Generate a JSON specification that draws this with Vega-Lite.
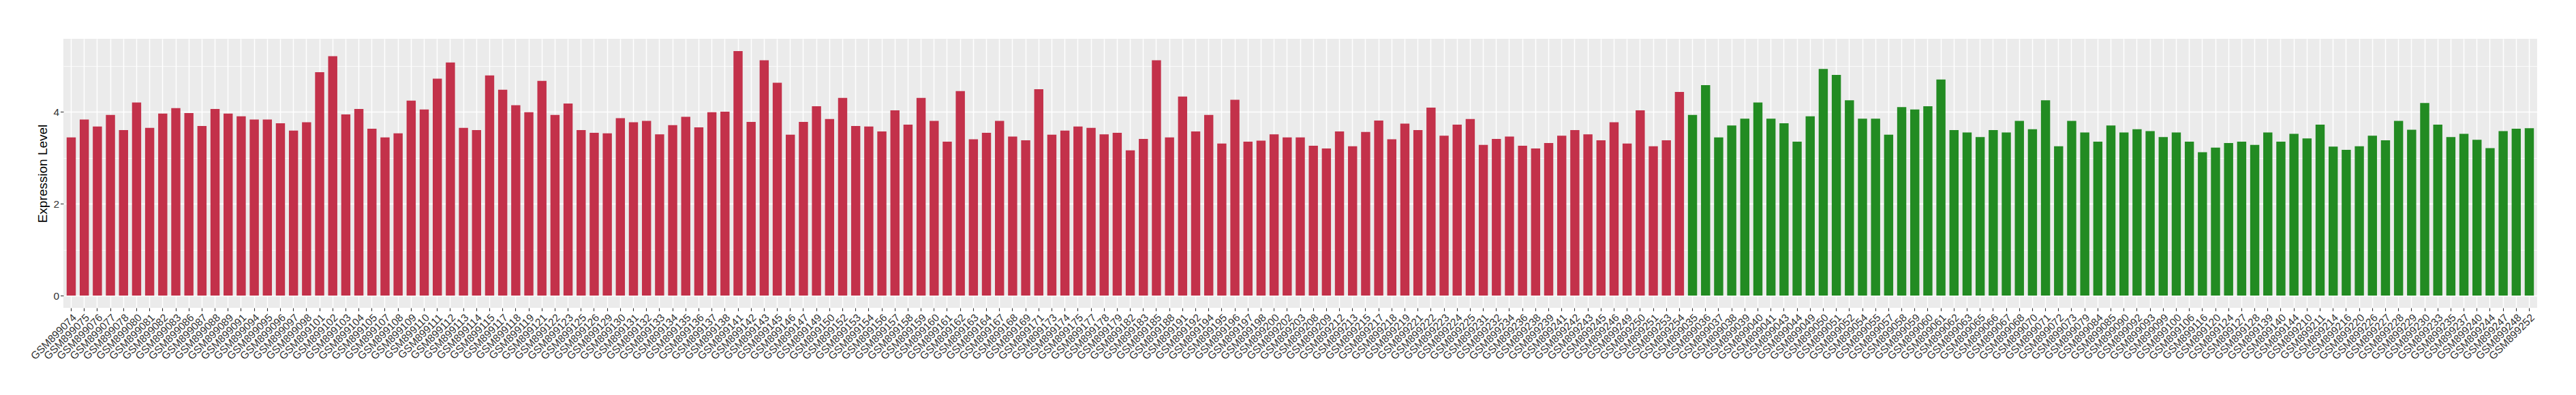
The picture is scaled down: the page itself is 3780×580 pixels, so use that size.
{
  "$schema": "https://vega.github.io/schema/vega-lite/v6.json",
  "width": 3630,
  "height": 395,
  "autosize": {"type": "none"},
  "padding": {"left": 93, "top": 57, "right": 57, "bottom": 128},
  "background": "white",
  "config": {"view": {"fill": "#EBEBEB", "stroke": null}, "font": "Liberation Sans"},
  "data": {"values": [
    {"sample": "GSM899074", "expression": 3.44, "group": "G1"},
    {"sample": "GSM899075", "expression": 3.83, "group": "G1"},
    {"sample": "GSM899076", "expression": 3.68, "group": "G1"},
    {"sample": "GSM899077", "expression": 3.93, "group": "G1"},
    {"sample": "GSM899078", "expression": 3.60, "group": "G1"},
    {"sample": "GSM899080", "expression": 4.20, "group": "G1"},
    {"sample": "GSM899081", "expression": 3.65, "group": "G1"},
    {"sample": "GSM899082", "expression": 3.96, "group": "G1"},
    {"sample": "GSM899083", "expression": 4.08, "group": "G1"},
    {"sample": "GSM899086", "expression": 3.97, "group": "G1"},
    {"sample": "GSM899087", "expression": 3.69, "group": "G1"},
    {"sample": "GSM899088", "expression": 4.06, "group": "G1"},
    {"sample": "GSM899089", "expression": 3.96, "group": "G1"},
    {"sample": "GSM899091", "expression": 3.90, "group": "G1"},
    {"sample": "GSM899094", "expression": 3.83, "group": "G1"},
    {"sample": "GSM899095", "expression": 3.83, "group": "G1"},
    {"sample": "GSM899096", "expression": 3.75, "group": "G1"},
    {"sample": "GSM899097", "expression": 3.59, "group": "G1"},
    {"sample": "GSM899098", "expression": 3.77, "group": "G1"},
    {"sample": "GSM899101", "expression": 4.86, "group": "G1"},
    {"sample": "GSM899102", "expression": 5.21, "group": "G1"},
    {"sample": "GSM899103", "expression": 3.94, "group": "G1"},
    {"sample": "GSM899104", "expression": 4.06, "group": "G1"},
    {"sample": "GSM899105", "expression": 3.63, "group": "G1"},
    {"sample": "GSM899107", "expression": 3.44, "group": "G1"},
    {"sample": "GSM899108", "expression": 3.53, "group": "G1"},
    {"sample": "GSM899109", "expression": 4.24, "group": "G1"},
    {"sample": "GSM899110", "expression": 4.05, "group": "G1"},
    {"sample": "GSM899111", "expression": 4.72, "group": "G1"},
    {"sample": "GSM899112", "expression": 5.07, "group": "G1"},
    {"sample": "GSM899113", "expression": 3.65, "group": "G1"},
    {"sample": "GSM899114", "expression": 3.60, "group": "G1"},
    {"sample": "GSM899115", "expression": 4.79, "group": "G1"},
    {"sample": "GSM899117", "expression": 4.48, "group": "G1"},
    {"sample": "GSM899118", "expression": 4.14, "group": "G1"},
    {"sample": "GSM899119", "expression": 3.99, "group": "G1"},
    {"sample": "GSM899121", "expression": 4.67, "group": "G1"},
    {"sample": "GSM899122", "expression": 3.93, "group": "G1"},
    {"sample": "GSM899123", "expression": 4.18, "group": "G1"},
    {"sample": "GSM899125", "expression": 3.60, "group": "G1"},
    {"sample": "GSM899126", "expression": 3.54, "group": "G1"},
    {"sample": "GSM899129", "expression": 3.53, "group": "G1"},
    {"sample": "GSM899130", "expression": 3.86, "group": "G1"},
    {"sample": "GSM899131", "expression": 3.77, "group": "G1"},
    {"sample": "GSM899132", "expression": 3.80, "group": "G1"},
    {"sample": "GSM899133", "expression": 3.51, "group": "G1"},
    {"sample": "GSM899134", "expression": 3.71, "group": "G1"},
    {"sample": "GSM899135", "expression": 3.89, "group": "G1"},
    {"sample": "GSM899136", "expression": 3.66, "group": "G1"},
    {"sample": "GSM899137", "expression": 3.99, "group": "G1"},
    {"sample": "GSM899138", "expression": 4.00, "group": "G1"},
    {"sample": "GSM899141", "expression": 5.32, "group": "G1"},
    {"sample": "GSM899142", "expression": 3.78, "group": "G1"},
    {"sample": "GSM899143", "expression": 5.12, "group": "G1"},
    {"sample": "GSM899145", "expression": 4.63, "group": "G1"},
    {"sample": "GSM899146", "expression": 3.50, "group": "G1"},
    {"sample": "GSM899147", "expression": 3.78, "group": "G1"},
    {"sample": "GSM899149", "expression": 4.12, "group": "G1"},
    {"sample": "GSM899150", "expression": 3.84, "group": "G1"},
    {"sample": "GSM899152", "expression": 4.30, "group": "G1"},
    {"sample": "GSM899153", "expression": 3.69, "group": "G1"},
    {"sample": "GSM899154", "expression": 3.68, "group": "G1"},
    {"sample": "GSM899156", "expression": 3.57, "group": "G1"},
    {"sample": "GSM899157", "expression": 4.03, "group": "G1"},
    {"sample": "GSM899158", "expression": 3.72, "group": "G1"},
    {"sample": "GSM899159", "expression": 4.30, "group": "G1"},
    {"sample": "GSM899160", "expression": 3.80, "group": "G1"},
    {"sample": "GSM899161", "expression": 3.35, "group": "G1"},
    {"sample": "GSM899162", "expression": 4.45, "group": "G1"},
    {"sample": "GSM899163", "expression": 3.40, "group": "G1"},
    {"sample": "GSM899164", "expression": 3.54, "group": "G1"},
    {"sample": "GSM899167", "expression": 3.80, "group": "G1"},
    {"sample": "GSM899168", "expression": 3.46, "group": "G1"},
    {"sample": "GSM899169", "expression": 3.38, "group": "G1"},
    {"sample": "GSM899171", "expression": 4.49, "group": "G1"},
    {"sample": "GSM899173", "expression": 3.50, "group": "G1"},
    {"sample": "GSM899174", "expression": 3.59, "group": "G1"},
    {"sample": "GSM899175", "expression": 3.68, "group": "G1"},
    {"sample": "GSM899177", "expression": 3.65, "group": "G1"},
    {"sample": "GSM899178", "expression": 3.51, "group": "G1"},
    {"sample": "GSM899179", "expression": 3.54, "group": "G1"},
    {"sample": "GSM899182", "expression": 3.16, "group": "G1"},
    {"sample": "GSM899183", "expression": 3.41, "group": "G1"},
    {"sample": "GSM899185", "expression": 5.12, "group": "G1"},
    {"sample": "GSM899188", "expression": 3.44, "group": "G1"},
    {"sample": "GSM899191", "expression": 4.33, "group": "G1"},
    {"sample": "GSM899192", "expression": 3.57, "group": "G1"},
    {"sample": "GSM899194", "expression": 3.93, "group": "G1"},
    {"sample": "GSM899195", "expression": 3.31, "group": "G1"},
    {"sample": "GSM899196", "expression": 4.26, "group": "G1"},
    {"sample": "GSM899197", "expression": 3.35, "group": "G1"},
    {"sample": "GSM899198", "expression": 3.37, "group": "G1"},
    {"sample": "GSM899200", "expression": 3.51, "group": "G1"},
    {"sample": "GSM899202", "expression": 3.44, "group": "G1"},
    {"sample": "GSM899203", "expression": 3.44, "group": "G1"},
    {"sample": "GSM899208", "expression": 3.26, "group": "G1"},
    {"sample": "GSM899209", "expression": 3.20, "group": "G1"},
    {"sample": "GSM899212", "expression": 3.57, "group": "G1"},
    {"sample": "GSM899213", "expression": 3.25, "group": "G1"},
    {"sample": "GSM899215", "expression": 3.56, "group": "G1"},
    {"sample": "GSM899217", "expression": 3.81, "group": "G1"},
    {"sample": "GSM899218", "expression": 3.40, "group": "G1"},
    {"sample": "GSM899219", "expression": 3.74, "group": "G1"},
    {"sample": "GSM899221", "expression": 3.60, "group": "G1"},
    {"sample": "GSM899222", "expression": 4.09, "group": "G1"},
    {"sample": "GSM899223", "expression": 3.48, "group": "G1"},
    {"sample": "GSM899224", "expression": 3.72, "group": "G1"},
    {"sample": "GSM899225", "expression": 3.84, "group": "G1"},
    {"sample": "GSM899231", "expression": 3.28, "group": "G1"},
    {"sample": "GSM899232", "expression": 3.41, "group": "G1"},
    {"sample": "GSM899234", "expression": 3.46, "group": "G1"},
    {"sample": "GSM899236", "expression": 3.26, "group": "G1"},
    {"sample": "GSM899238", "expression": 3.20, "group": "G1"},
    {"sample": "GSM899239", "expression": 3.32, "group": "G1"},
    {"sample": "GSM899241", "expression": 3.48, "group": "G1"},
    {"sample": "GSM899242", "expression": 3.60, "group": "G1"},
    {"sample": "GSM899243", "expression": 3.51, "group": "G1"},
    {"sample": "GSM899245", "expression": 3.38, "group": "G1"},
    {"sample": "GSM899246", "expression": 3.77, "group": "G1"},
    {"sample": "GSM899249", "expression": 3.31, "group": "G1"},
    {"sample": "GSM899250", "expression": 4.03, "group": "G1"},
    {"sample": "GSM899251", "expression": 3.25, "group": "G1"},
    {"sample": "GSM899253", "expression": 3.38, "group": "G1"},
    {"sample": "GSM899254", "expression": 4.43, "group": "G1"},
    {"sample": "GSM899035", "expression": 3.93, "group": "G2"},
    {"sample": "GSM899036", "expression": 4.58, "group": "G2"},
    {"sample": "GSM899037", "expression": 3.44, "group": "G2"},
    {"sample": "GSM899038", "expression": 3.70, "group": "G2"},
    {"sample": "GSM899039", "expression": 3.85, "group": "G2"},
    {"sample": "GSM899040", "expression": 4.20, "group": "G2"},
    {"sample": "GSM899041", "expression": 3.85, "group": "G2"},
    {"sample": "GSM899043", "expression": 3.75, "group": "G2"},
    {"sample": "GSM899044", "expression": 3.35, "group": "G2"},
    {"sample": "GSM899049", "expression": 3.90, "group": "G2"},
    {"sample": "GSM899050", "expression": 4.93, "group": "G2"},
    {"sample": "GSM899051", "expression": 4.80, "group": "G2"},
    {"sample": "GSM899052", "expression": 4.25, "group": "G2"},
    {"sample": "GSM899054", "expression": 3.85, "group": "G2"},
    {"sample": "GSM899055", "expression": 3.85, "group": "G2"},
    {"sample": "GSM899057", "expression": 3.50, "group": "G2"},
    {"sample": "GSM899058", "expression": 4.10, "group": "G2"},
    {"sample": "GSM899059", "expression": 4.05, "group": "G2"},
    {"sample": "GSM899060", "expression": 4.12, "group": "G2"},
    {"sample": "GSM899061", "expression": 4.70, "group": "G2"},
    {"sample": "GSM899062", "expression": 3.60, "group": "G2"},
    {"sample": "GSM899063", "expression": 3.55, "group": "G2"},
    {"sample": "GSM899065", "expression": 3.45, "group": "G2"},
    {"sample": "GSM899066", "expression": 3.60, "group": "G2"},
    {"sample": "GSM899067", "expression": 3.55, "group": "G2"},
    {"sample": "GSM899068", "expression": 3.80, "group": "G2"},
    {"sample": "GSM899070", "expression": 3.62, "group": "G2"},
    {"sample": "GSM899071", "expression": 4.25, "group": "G2"},
    {"sample": "GSM899072", "expression": 3.25, "group": "G2"},
    {"sample": "GSM899073", "expression": 3.80, "group": "G2"},
    {"sample": "GSM899079", "expression": 3.55, "group": "G2"},
    {"sample": "GSM899084", "expression": 3.35, "group": "G2"},
    {"sample": "GSM899085", "expression": 3.70, "group": "G2"},
    {"sample": "GSM899090", "expression": 3.55, "group": "G2"},
    {"sample": "GSM899092", "expression": 3.62, "group": "G2"},
    {"sample": "GSM899093", "expression": 3.58, "group": "G2"},
    {"sample": "GSM899099", "expression": 3.45, "group": "G2"},
    {"sample": "GSM899100", "expression": 3.55, "group": "G2"},
    {"sample": "GSM899106", "expression": 3.35, "group": "G2"},
    {"sample": "GSM899116", "expression": 3.12, "group": "G2"},
    {"sample": "GSM899120", "expression": 3.22, "group": "G2"},
    {"sample": "GSM899124", "expression": 3.32, "group": "G2"},
    {"sample": "GSM899127", "expression": 3.35, "group": "G2"},
    {"sample": "GSM899128", "expression": 3.28, "group": "G2"},
    {"sample": "GSM899139", "expression": 3.55, "group": "G2"},
    {"sample": "GSM899140", "expression": 3.35, "group": "G2"},
    {"sample": "GSM899144", "expression": 3.52, "group": "G2"},
    {"sample": "GSM899210", "expression": 3.42, "group": "G2"},
    {"sample": "GSM899211", "expression": 3.72, "group": "G2"},
    {"sample": "GSM899214", "expression": 3.24, "group": "G2"},
    {"sample": "GSM899216", "expression": 3.17, "group": "G2"},
    {"sample": "GSM899220", "expression": 3.25, "group": "G2"},
    {"sample": "GSM899226", "expression": 3.48, "group": "G2"},
    {"sample": "GSM899227", "expression": 3.38, "group": "G2"},
    {"sample": "GSM899228", "expression": 3.80, "group": "G2"},
    {"sample": "GSM899229", "expression": 3.61, "group": "G2"},
    {"sample": "GSM899230", "expression": 4.19, "group": "G2"},
    {"sample": "GSM899233", "expression": 3.72, "group": "G2"},
    {"sample": "GSM899235", "expression": 3.45, "group": "G2"},
    {"sample": "GSM899237", "expression": 3.52, "group": "G2"},
    {"sample": "GSM899240", "expression": 3.39, "group": "G2"},
    {"sample": "GSM899244", "expression": 3.21, "group": "G2"},
    {"sample": "GSM899247", "expression": 3.58, "group": "G2"},
    {"sample": "GSM899248", "expression": 3.63, "group": "G2"},
    {"sample": "GSM899252", "expression": 3.64, "group": "G2"}
  ]},
  "mark": {"type": "bar"},
  "encoding": {
    "x": {
      "field": "sample", "type": "nominal", "sort": null,
      "scale": {"paddingInner": 0.3, "paddingOuter": 0.25},
      "axis": {
        "title": null, "bandPosition": 0.5, "domain": false,
        "grid": true, "gridColor": "white", "gridWidth": 1.5,
        "ticks": true, "tickColor": "#333333", "tickSize": 4.5, "tickWidth": 1.1,
        "labelAngle": -45, "labelAlign": "right", "labelBaseline": "top",
        "labelFontSize": 15.5, "labelColor": "#333333", "labelPadding": 2,
        "labelOverlap": false, "labelLimit": 300
      }
    },
    "y": {
      "field": "expression", "type": "quantitative",
      "scale": {"domain": [-0.266, 5.586], "nice": false, "zero": false},
      "axis": {
        "values": [0, 1, 2, 3, 4, 5],
        "labelExpr": "datum.value % 2 === 0 ? datum.label : ''",
        "domain": false, "grid": true, "gridColor": "white",
        "gridWidth": {"condition": {"test": "datum.value % 2 === 0", "value": 1.5}, "value": 0.75},
        "tickOpacity": {"condition": {"test": "datum.value % 2 === 0", "value": 1}, "value": 0},
        "tickColor": "#333333", "tickSize": 4.5, "tickWidth": 1.1,
        "labelFontSize": 15.5, "labelColor": "#333333", "labelPadding": 2,
        "title": "Expression Level", "titleFontSize": 19, "titleFontWeight": "normal",
        "titleColor": "black", "titlePadding": 5
      }
    },
    "y2": {"datum": 0},
    "color": {
      "field": "group", "type": "nominal",
      "scale": {"domain": ["G1", "G2"], "range": ["#C3314A", "#228B22"]},
      "legend": null
    }
  }
}
